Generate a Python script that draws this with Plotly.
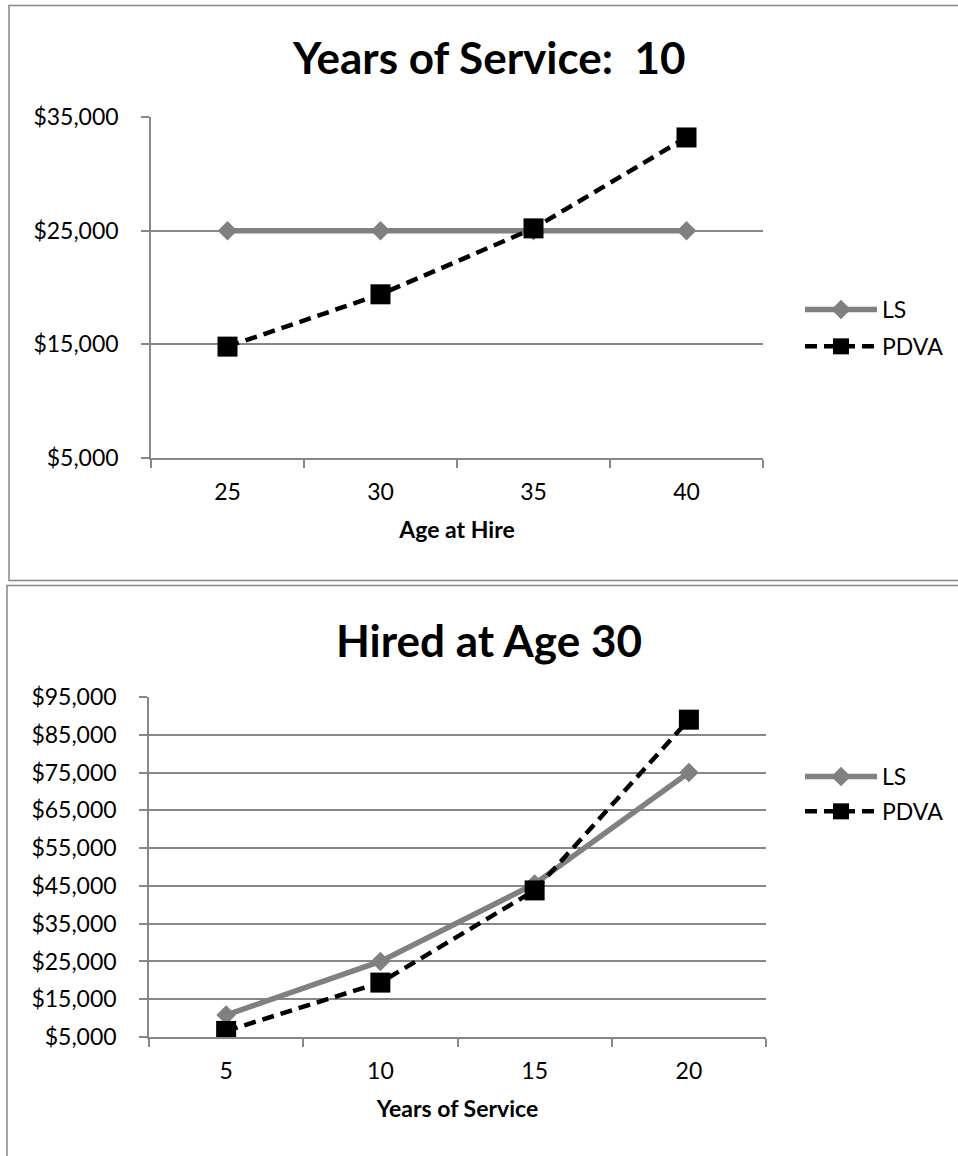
import plotly.graph_objects as go

# Chart 1: benefit value by age at hire (10 years of service)
age_at_hire = ["25", "30", "35", "40"]
ls_by_age = [25000, 25000, 25000, 25000]
pdva_by_age = [14800, 19400, 25200, 33200]

# Chart 2: benefit value by years of service (hired at age 30)
years_of_service = ["5", "10", "15", "20"]
ls_by_service = [10800, 25000, 45500, 75000]
pdva_by_service = [6600, 19400, 43800, 89000]

W, H = 958, 1156
FONT = "Lato"
GRID = "#878787"
LS_COLOR = "#808080"
PDVA_COLOR = "#000000"


def px_x(v):
    return v / W


def px_y(v):
    return 1 - v / H


fig = go.Figure()

series = [
    ("x", "y", "legend", age_at_hire, ls_by_age, pdva_by_age),
    ("x2", "y2", "legend2", years_of_service, ls_by_service, pdva_by_service),
]
for xa, ya, leg, cats, ls_vals, pdva_vals in series:
    fig.add_trace(go.Scatter(
        x=cats, y=ls_vals, name="LS", xaxis=xa, yaxis=ya, legend=leg,
        legendgroup=leg + "ls", mode="lines+markers",
        line=dict(color=LS_COLOR, width=5.5),
        marker=dict(symbol="diamond", size=15, color=LS_COLOR, line=dict(width=0)),
    ))
    fig.add_trace(go.Scatter(
        x=cats, y=pdva_vals, name="PDVA", xaxis=xa, yaxis=ya, legend=leg,
        legendgroup=leg + "pdva", mode="lines+markers",
        line=dict(color=PDVA_COLOR, width=4.5, dash="12px,7px"),
        marker=dict(symbol="square", size=20, color=PDVA_COLOR, line=dict(width=0)),
    ))

tick_font = dict(family=FONT, size=23, color="#000000")
xaxis_common = dict(
    type="category", range=[-0.5, 3.5], tickson="boundaries", ticks="outside",
    ticklen=8, tickcolor=GRID, tickwidth=1.5, showline=True, linecolor=GRID,
    linewidth=1.5, showgrid=False, zeroline=False, tickfont=tick_font,
    ticklabelstandoff=13, fixedrange=True, automargin=False,
)
yaxis_common = dict(
    ticks="outside", ticklen=8, tickcolor=GRID, tickwidth=1.5,
    showline=True, linecolor=GRID, linewidth=1.5, showgrid=True,
    gridcolor=GRID, gridwidth=1.5, zeroline=False, tickprefix="$",
    tickformat=",d", dtick=10000, tick0=5000, tickfont=tick_font,
    ticklabelstandoff=18, fixedrange=True, automargin=False,
)

fig.update_layout(
    width=W, height=H,
    margin=dict(l=0, r=0, t=0, b=0, autoexpand=False),
    paper_bgcolor="white", plot_bgcolor="white",
    font=dict(family=FONT, color="#000000"),
    xaxis=dict(
        xaxis_common, domain=[px_x(151), px_x(763)], anchor="y",
        title=dict(text="<b>Age at Hire</b>", font=dict(family=FONT, size=23), standoff=18),
    ),
    yaxis=dict(
        yaxis_common, domain=[px_y(458), px_y(117)], anchor="x", range=[5000, 35000],
    ),
    xaxis2=dict(
        xaxis_common, domain=[px_x(149), px_x(766)], anchor="y2",
        title=dict(text="<b>Years of Service</b>", font=dict(family=FONT, size=23), standoff=18),
    ),
    yaxis2=dict(
        yaxis_common, domain=[px_y(1037), px_y(697)], anchor="x2", range=[5000, 95000],
    ),
    legend=dict(
        x=px_x(800), y=px_y(328), xanchor="left", yanchor="middle",
        font=dict(family=FONT, size=23), tracegroupgap=4, itemwidth=72,
        bgcolor="rgba(0,0,0,0)",
    ),
    legend2=dict(
        x=px_x(800), y=px_y(794), xanchor="left", yanchor="middle",
        font=dict(family=FONT, size=23), tracegroupgap=2, itemwidth=72,
        bgcolor="rgba(0,0,0,0)",
    ),
    showlegend=True,
)

# Chart titles
fig.add_annotation(
    text="<b>Years of Service:  10</b>", xref="paper", yref="paper",
    x=px_x(489), y=px_y(57), showarrow=False, xanchor="center", yanchor="middle",
    font=dict(family=FONT, size=44, color="#000000"),
)
fig.add_annotation(
    text="<b>Hired at Age 30</b>", xref="paper", yref="paper",
    x=px_x(489), y=px_y(640), showarrow=False, xanchor="center", yanchor="middle",
    font=dict(family=FONT, size=44, color="#000000"),
)


def frame_path(points):
    return "M " + " L ".join(f"{px_x(a):.5f},{px_y(b):.5f}" for a, b in points)


# Chart frames, open on the right / bottom edge of the page
fig.add_shape(type="path", xref="paper", yref="paper",
              path=frame_path([(W, 5.5), (9, 5.5), (9, 580.5), (W, 580.5)]),
              line=dict(color=GRID, width=1.5), layer="below")
fig.add_shape(type="path", xref="paper", yref="paper",
              path=frame_path([(W, 585.5), (7, 585.5), (7, H)]),
              line=dict(color=GRID, width=1.5), layer="below")

fig.write_html("out.html")
